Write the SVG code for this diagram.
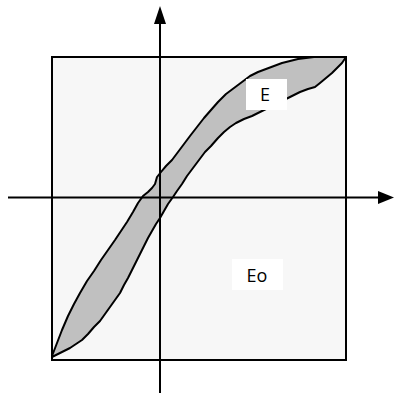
<svg xmlns="http://www.w3.org/2000/svg" width="394" height="394" viewBox="0 0 394 394">
<style>
.frame{fill:#f7f7f7;stroke:#000;stroke-width:2}
.band{fill:#c0c0c0;stroke:#000;stroke-width:2;stroke-linejoin:round}
.axis{fill:none;stroke:#000;stroke-width:2}
.head{fill:#000}
.lbox{fill:#fff}
.lbl{font-family:"Open Sans","Liberation Sans",sans-serif;font-size:18px;fill:#000;text-anchor:middle}
</style>
<rect width="394" height="394" fill="#fff"/>
<g id="frame"><rect class="frame" x="52" y="57" width="294" height="303"/></g>
<g id="band"><path class="band" d="M52,356 L57,343 L62,330 L68,316 L74,304 L80,293 L87,281 L94,271 L101,260 L108,250 L115,240 L121,231 L127,222 L133,212 L138,203 L143,196 L148,192 L152,188 L155,184 L157,177 L161,172 L166,166 L172,160 L178,152 L184,144 L190,136 L197,127 L204,118 L211,110 L218,102 L226,94 L234,88 L242,82 L250,76 L258,72 L266,69 L274,66 L282,63 L290,61 L298,59 L306,58 L314,57 L346,57 L342,63 L337,68 L332,73 L326,78 L320,83 L315,87 L308,89 L300,92 L292,96 L284,100 L276,103 L268,108 L260,112 L252,116 L244,119 L236,123 L230,127 L224,132 L218,138 L211,146 L205,152 L199,160 L193,168 L187,176 L182,184 L177,191 L173,197 L168,204 L164,211 L160,218 L156,224 L152,231 L148,238 L144,246 L140,254 L136,262 L132,270 L128,278 L124,285 L120,293 L115,300 L110,307 L105,314 L100,321 L94,327 L88,334 L82,340 L76,344 L70,348 L64,351 L58,354 L52,357 Z"/></g>
<g id="connectors">
<line class="axis" x1="160" y1="393" x2="160" y2="22"/>
<polygon class="head" points="160,6 154,24 166,24"/>
<line class="axis" x1="8" y1="197.5" x2="380" y2="197.5"/>
<polygon class="head" points="394,197.5 378,191 378,204"/>
</g>
<g id="label-E"><rect class="lbox" x="246" y="79" width="41" height="31"/><text class="lbl" x="265" y="101">E</text></g>
<g id="label-Eo"><rect class="lbox" x="232" y="259" width="51" height="31"/><text class="lbl" x="257" y="282">Eo</text></g>
</svg>
